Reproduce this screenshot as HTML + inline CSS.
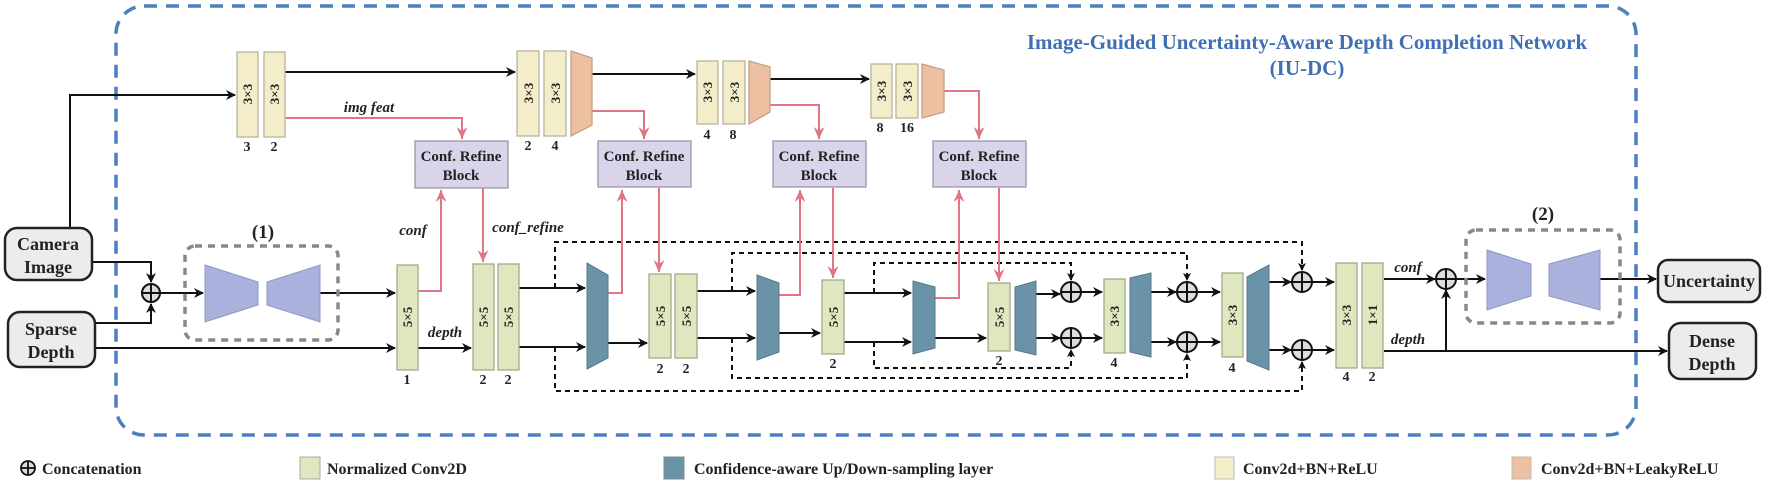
<!DOCTYPE html>
<html><head><meta charset="utf-8"><style>
html,body{margin:0;padding:0;background:#fff;}
svg{display:block;font-family:"Liberation Serif",serif;}
.b{font-weight:bold;}
</style></head><body>
<svg width="1772" height="483" viewBox="0 0 1772 483" xmlns="http://www.w3.org/2000/svg">
<defs>
<marker id="ak" markerWidth="10" markerHeight="10" refX="9" refY="5" orient="auto" markerUnits="userSpaceOnUse"><path d="M0,0 L10,5 L0,10 L3,5 Z" fill="#111"/></marker>
<marker id="apr" markerWidth="13" markerHeight="13" refX="12" refY="6.5" orient="auto" markerUnits="userSpaceOnUse"><path d="M0,1 L12,6.5 L0,12 L4,6.5 Z" fill="#e07585"/></marker>
<marker id="ad" markerWidth="8" markerHeight="8" refX="7" refY="4" orient="auto" markerUnits="userSpaceOnUse"><path d="M0,0 L8,4 L0,8 L2,4 Z" fill="#111"/></marker>
</defs>

<rect x="116" y="6" width="1520" height="429" rx="28" fill="none" stroke="#4a7fc1" stroke-width="3.5" stroke-dasharray="13,9"/>
<text x="1307" y="49" text-anchor="middle" class="b" font-size="21" fill="#3f6fb5">Image-Guided Uncertainty-Aware Depth Completion Network</text>
<text x="1307" y="75" text-anchor="middle" class="b" font-size="21" fill="#3f6fb5">(IU-DC)</text>

<g stroke="#111" stroke-width="2" fill="none">
<polyline points="70,228 70,95 235,95" marker-end="url(#ak)"/>
<line x1="285" y1="72" x2="515" y2="72" marker-end="url(#ak)"/>
<line x1="592" y1="74" x2="695" y2="74" marker-end="url(#ak)"/>
<line x1="770" y1="79" x2="869" y2="79" marker-end="url(#ak)"/>
<polyline points="92,262 151,262 151,282" marker-end="url(#ak)"/>
<polyline points="95,323 151,323 151,304" marker-end="url(#ak)"/>
<line x1="161" y1="293" x2="203" y2="293" marker-end="url(#ak)"/>
<line x1="320" y1="293" x2="395" y2="293" marker-end="url(#ak)"/>
<line x1="95" y1="348" x2="395" y2="348" marker-end="url(#ak)"/>
<line x1="418" y1="348" x2="471" y2="348" marker-end="url(#ak)"/>
<line x1="519" y1="288" x2="585" y2="288" marker-end="url(#ak)"/>
<line x1="519" y1="347" x2="585" y2="347" marker-end="url(#ak)"/>
<line x1="608" y1="343" x2="647" y2="343" marker-end="url(#ak)"/>
<line x1="697" y1="291" x2="755" y2="291" marker-end="url(#ak)"/>
<line x1="697" y1="338" x2="755" y2="338" marker-end="url(#ak)"/>
<line x1="779" y1="333" x2="820" y2="333" marker-end="url(#ak)"/>
<line x1="844" y1="293" x2="911" y2="293" marker-end="url(#ak)"/>
<line x1="844" y1="342" x2="911" y2="342" marker-end="url(#ak)"/>
<line x1="935" y1="338" x2="986" y2="338" marker-end="url(#ak)"/>
<line x1="1036" y1="294" x2="1060" y2="294" marker-end="url(#ak)"/>
<line x1="1036" y1="338" x2="1060" y2="338" marker-end="url(#ak)"/>
<line x1="1081" y1="292" x2="1102" y2="292" marker-end="url(#ak)"/>
<line x1="1081" y1="338" x2="1102" y2="338" marker-end="url(#ak)"/>
<line x1="1151" y1="292" x2="1176" y2="292" marker-end="url(#ak)"/>
<line x1="1151" y1="342" x2="1176" y2="342" marker-end="url(#ak)"/>
<line x1="1197" y1="292" x2="1220" y2="292" marker-end="url(#ak)"/>
<line x1="1197" y1="342" x2="1220" y2="342" marker-end="url(#ak)"/>
<line x1="1269" y1="282" x2="1291" y2="282" marker-end="url(#ak)"/>
<line x1="1269" y1="350" x2="1291" y2="350" marker-end="url(#ak)"/>
<line x1="1312" y1="282" x2="1334" y2="282" marker-end="url(#ak)"/>
<line x1="1312" y1="350" x2="1334" y2="350" marker-end="url(#ak)"/>
<line x1="1384" y1="279" x2="1435" y2="279" marker-end="url(#ak)"/>
<line x1="1384" y1="351" x2="1667" y2="351" marker-end="url(#ak)"/>
<line x1="1446" y1="351" x2="1446" y2="290" marker-end="url(#ak)"/>
<line x1="1456" y1="279" x2="1485" y2="279" marker-end="url(#ak)"/>
<line x1="1600" y1="279" x2="1656" y2="279" marker-end="url(#ak)"/>
</g>

<g stroke="#111" stroke-width="2" fill="none" stroke-dasharray="5,4">
<polyline points="555,288 555,242 1302,242 1302,270" marker-end="url(#ad)"/>
<polyline points="555,347 555,391 1302,391 1302,362" marker-end="url(#ad)"/>
<polyline points="732,291 732,253 1187,253 1187,280" marker-end="url(#ad)"/>
<polyline points="732,338 732,378 1187,378 1187,354" marker-end="url(#ad)"/>
<polyline points="874,293 874,263 1071,263 1071,280" marker-end="url(#ad)"/>
<polyline points="874,342 874,368 1071,368 1071,350" marker-end="url(#ad)"/>
</g>

<g stroke="#e07585" stroke-width="2" fill="none">
<polyline points="285,118 462,118 462,139" marker-end="url(#apr)"/>
<polyline points="592,111 644,111 644,139" marker-end="url(#apr)"/>
<polyline points="770,105 819,105 819,139" marker-end="url(#apr)"/>
<polyline points="944,91 979,91 979,139" marker-end="url(#apr)"/>
<polyline points="418,291 441,291 441,190" marker-end="url(#apr)"/>
<polyline points="483,188 483,262" marker-end="url(#apr)"/>
<polyline points="608,293 622,293 622,190" marker-end="url(#apr)"/>
<polyline points="659,188 659,272" marker-end="url(#apr)"/>
<polyline points="779,295 800,295 800,190" marker-end="url(#apr)"/>
<polyline points="833,188 833,278" marker-end="url(#apr)"/>
<polyline points="935,298 959,298 959,190" marker-end="url(#apr)"/>
<polyline points="999,188 999,281" marker-end="url(#apr)"/>
</g>

<g fill="#f4edc9" stroke="#b9b49a" stroke-width="1.3">
<rect x="237" y="52" width="21" height="85"/><rect x="264" y="52" width="21" height="85"/>
<rect x="517" y="51" width="22" height="85"/><rect x="544" y="51" width="22" height="85"/>
<rect x="697" y="61" width="21" height="63"/><rect x="723" y="61" width="22" height="63"/>
<rect x="871" y="64" width="21" height="54"/><rect x="896" y="64" width="22" height="54"/>
</g>
<g fill="#ecc0a0" stroke="#c4a088" stroke-width="1.3">
<polygon points="571,51 592,58 592,125 571,136"/>
<polygon points="749,61 770,67 770,112 749,124"/>
<polygon points="922,64 944,70 944,112 922,118"/>
</g>

<g fill="#d9d4ea" stroke="#9a97a8" stroke-width="1.3">
<rect x="415" y="141" width="93" height="47"/>
<rect x="598" y="141" width="93" height="46"/>
<rect x="773" y="141" width="93" height="46"/>
<rect x="933" y="141" width="93" height="46"/>
</g>
<g class="b" font-size="15" fill="#222" text-anchor="middle">
<text x="461" y="161">Conf. Refine</text><text x="461" y="180">Block</text>
<text x="644" y="161">Conf. Refine</text><text x="644" y="180">Block</text>
<text x="819" y="161">Conf. Refine</text><text x="819" y="180">Block</text>
<text x="979" y="161">Conf. Refine</text><text x="979" y="180">Block</text>
</g>

<rect x="185" y="246" width="153" height="94" rx="10" fill="none" stroke="#888" stroke-width="3.5" stroke-dasharray="7,6"/>
<rect x="1466" y="230" width="154" height="93" rx="10" fill="none" stroke="#888" stroke-width="3.5" stroke-dasharray="7,6"/>
<g fill="#a9b1dc" stroke="#8f97c6" stroke-width="1">
<polygon points="205,265 258,282 258,305 205,322"/>
<polygon points="267,282 320,265 320,322 267,305"/>
<polygon points="1487,250 1531,264 1531,296 1487,310"/>
<polygon points="1549,264 1600,250 1600,310 1549,296"/>
</g>
<text x="263" y="238" text-anchor="middle" class="b" font-size="19" fill="#222">(1)</text>
<text x="1543" y="220" text-anchor="middle" class="b" font-size="19" fill="#222">(2)</text>

<g fill="#6b93a8" stroke="#56798c" stroke-width="1">
<polygon points="587,263 608,275 608,358 587,369"/>
<polygon points="757,275 779,283 779,352 757,360"/>
<polygon points="913,281 935,287 935,348 913,354"/>
<polygon points="1015,287 1036,281 1036,355 1015,350"/>
<polygon points="1130,278 1151,273 1151,357 1130,352"/>
<polygon points="1247,277 1269,265 1269,370 1247,361"/>
</g>

<g fill="#dfe7bf" stroke="#a2ab8c" stroke-width="1.3">
<rect x="397" y="265" width="21" height="105"/>
<rect x="473" y="264" width="21" height="106"/><rect x="498" y="264" width="21" height="106"/>
<rect x="649" y="274" width="22" height="84"/><rect x="675" y="274" width="22" height="84"/>
<rect x="822" y="280" width="22" height="74"/>
<rect x="988" y="283" width="22" height="68"/>
<rect x="1104" y="279" width="21" height="74"/>
<rect x="1222" y="273" width="21" height="84"/>
<rect x="1336" y="263" width="21" height="105"/><rect x="1362" y="263" width="21" height="105"/>
</g>

<g class="b" font-size="13" fill="#222" text-anchor="middle">
<text transform="translate(252,94) rotate(-90)">3×3</text>
<text transform="translate(279,94) rotate(-90)">3×3</text>
<text transform="translate(533,93) rotate(-90)">3×3</text>
<text transform="translate(560,93) rotate(-90)">3×3</text>
<text transform="translate(712,92) rotate(-90)">3×3</text>
<text transform="translate(739,92) rotate(-90)">3×3</text>
<text transform="translate(886,91) rotate(-90)">3×3</text>
<text transform="translate(912,91) rotate(-90)">3×3</text>
<text transform="translate(412,317) rotate(-90)">5×5</text>
<text transform="translate(488,317) rotate(-90)">5×5</text>
<text transform="translate(513,317) rotate(-90)">5×5</text>
<text transform="translate(665,316) rotate(-90)">5×5</text>
<text transform="translate(691,316) rotate(-90)">5×5</text>
<text transform="translate(838,317) rotate(-90)">5×5</text>
<text transform="translate(1004,317) rotate(-90)">5×5</text>
<text transform="translate(1119,316) rotate(-90)">3×3</text>
<text transform="translate(1237,315) rotate(-90)">3×3</text>
<text transform="translate(1351,315) rotate(-90)">3×3</text>
<text transform="translate(1377,315) rotate(-90)">1×1</text>
</g>

<g class="b" font-size="14" fill="#222" text-anchor="middle">
<text x="247" y="151">3</text><text x="274" y="151">2</text>
<text x="528" y="150">2</text><text x="555" y="150">4</text>
<text x="707" y="139">4</text><text x="733" y="139">8</text>
<text x="880" y="132">8</text><text x="907" y="132">16</text>
<text x="407" y="384">1</text>
<text x="483" y="384">2</text><text x="508" y="384">2</text>
<text x="660" y="373">2</text><text x="686" y="373">2</text>
<text x="833" y="368">2</text>
<text x="999" y="365">2</text>
<text x="1114" y="367">4</text>
<text x="1232" y="372">4</text>
<text x="1346" y="381">4</text><text x="1372" y="381">2</text>
</g>

<g class="b" font-style="italic" font-size="15" fill="#222" text-anchor="middle">
<text x="369" y="112">img feat</text>
<text x="413" y="235">conf</text>
<text x="528" y="232">conf_refine</text>
<text x="445" y="337">depth</text>
<text x="1408" y="272">conf</text>
<text x="1408" y="344">depth</text>
</g>

<g fill="#ddd" stroke="#111" stroke-width="2">
<circle cx="151" cy="293" r="9"/>
<circle cx="1071" cy="292" r="10"/><circle cx="1071" cy="338" r="10"/>
<circle cx="1187" cy="292" r="10"/><circle cx="1187" cy="342" r="10"/>
<circle cx="1302" cy="282" r="10"/><circle cx="1302" cy="350" r="10"/>
<circle cx="1446" cy="279" r="10"/>
</g>
<g stroke="#111" stroke-width="2">
<line x1="142" y1="293" x2="160" y2="293"/><line x1="151" y1="284" x2="151" y2="302"/>
<line x1="1061" y1="292" x2="1081" y2="292"/><line x1="1071" y1="282" x2="1071" y2="302"/>
<line x1="1061" y1="338" x2="1081" y2="338"/><line x1="1071" y1="328" x2="1071" y2="348"/>
<line x1="1177" y1="292" x2="1197" y2="292"/><line x1="1187" y1="282" x2="1187" y2="302"/>
<line x1="1177" y1="342" x2="1197" y2="342"/><line x1="1187" y1="332" x2="1187" y2="352"/>
<line x1="1292" y1="282" x2="1312" y2="282"/><line x1="1302" y1="272" x2="1302" y2="292"/>
<line x1="1292" y1="350" x2="1312" y2="350"/><line x1="1302" y1="340" x2="1302" y2="360"/>
<line x1="1436" y1="279" x2="1456" y2="279"/><line x1="1446" y1="269" x2="1446" y2="289"/>
</g>

<g fill="#ececec" stroke="#222" stroke-width="2.5">
<rect x="5" y="228" width="87" height="52" rx="12"/>
<rect x="8" y="312" width="87" height="55" rx="12"/>
<rect x="1658" y="260" width="102" height="42" rx="10"/>
<rect x="1669" y="323" width="87" height="56" rx="12"/>
</g>
<g class="b" font-size="18" fill="#222" text-anchor="middle">
<text x="48" y="250">Camera</text><text x="48" y="273">Image</text>
<text x="51" y="335">Sparse</text><text x="51" y="358">Depth</text>
<text x="1709" y="287">Uncertainty</text>
<text x="1712" y="347">Dense</text><text x="1712" y="370">Depth</text>
</g>

<g>
<circle cx="28" cy="468" r="7" fill="#ddd" stroke="#111" stroke-width="1.8"/>
<line x1="21" y1="468" x2="35" y2="468" stroke="#111" stroke-width="1.8"/><line x1="28" y1="461" x2="28" y2="475" stroke="#111" stroke-width="1.8"/>
<rect x="300" y="457" width="20" height="22" fill="#dfe7bf" stroke="#aaa"/>
<rect x="664" y="457" width="20" height="22" fill="#6b93a8" stroke="#888"/>
<rect x="1215" y="457" width="19" height="22" fill="#f4edc9" stroke="#bbb"/>
<rect x="1512" y="457" width="19" height="22" fill="#ecc0a0" stroke="#bbb"/>
</g>
<g class="b" font-size="16" fill="#222">
<text x="42" y="474">Concatenation</text>
<text x="327" y="474">Normalized Conv2D</text>
<text x="694" y="474">Confidence-aware Up/Down-sampling layer</text>
<text x="1243" y="474">Conv2d+BN+ReLU</text>
<text x="1541" y="474">Conv2d+BN+LeakyReLU</text>
</g>
</svg>
</body></html>
